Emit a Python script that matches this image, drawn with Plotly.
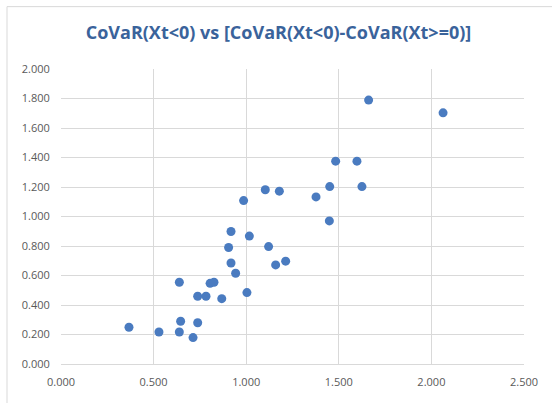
import plotly.graph_objects as go

# CoVaR(Xt<0) on the x axis, the CoVaR difference on the y axis
covar_neg = [0.367, 0.529, 0.639, 0.646, 0.639, 0.713, 0.738, 0.738, 0.783, 0.805,
             0.826, 0.868, 0.918, 0.905, 0.918, 0.943, 1.004, 1.017, 1.121, 1.159,
             1.213, 1.449, 0.986, 1.103, 1.179, 1.377, 1.451, 1.483, 1.598, 1.625,
             1.661, 2.063]
covar_diff = [0.249, 0.217, 0.554, 0.290, 0.217, 0.179, 0.459, 0.280, 0.459, 0.547,
              0.554, 0.443, 0.898, 0.790, 0.685, 0.615, 0.484, 0.867, 0.796, 0.672,
              0.697, 0.970, 1.108, 1.181, 1.172, 1.133, 1.203, 1.375, 1.375, 1.203,
              1.789, 1.703]

x_ticks = [0, 0.5, 1.0, 1.5, 2.0, 2.5]
y_ticks = [0, 0.2, 0.4, 0.6, 0.8, 1.0, 1.2, 1.4, 1.6, 1.8, 2.0]

fig = go.Figure(go.Scatter(
    x=covar_neg, y=covar_diff, mode="markers",
    marker=dict(color="#4A7BC0", size=9, line=dict(width=0)),
    showlegend=False,
))

grid = "#D9D9D9"
fig.update_layout(
    width=552, height=403,
    margin=dict(l=61, r=28, t=69, b=39),
    paper_bgcolor="white", plot_bgcolor="white",
    font=dict(family="Open Sans", size=11, color="#595959"),
    title=dict(text="<b>CoVaR(Xt<0) vs [CoVaR(Xt<0)-CoVaR(Xt>=0)]</b>",
               x=(278.5 - 61) / 463, xref="paper", xanchor="center",
               y=1 - 33 / 403, yanchor="middle",
               font=dict(family="Open Sans", size=18, color="#3A639B")),
    xaxis=dict(range=[0, 2.5], tickvals=x_ticks,
               ticktext=[f"{v:.3f}" for v in x_ticks],
               showgrid=True, gridcolor=grid, gridwidth=1,
               showline=True, linecolor=grid, zeroline=False,
               ticks="outside", ticklen=8, tickcolor="rgba(0,0,0,0)"),
    yaxis=dict(range=[0, 2.0], tickvals=y_ticks,
               ticktext=[f"{v:.3f}" for v in y_ticks],
               showgrid=True, gridcolor=grid, gridwidth=1,
               showline=False, zeroline=False,
               ticks="outside", ticklen=8, tickcolor="rgba(0,0,0,0)"),
    shapes=[dict(type="rect", xref="paper", yref="paper",
                 x0=(7 - 61) / 463, x1=1.2, y0=-0.3, y1=(364 - 7) / 294.7,
                 line=dict(color="#D9D9D9", width=1), layer="below")],
)

fig.write_html("out.html")
